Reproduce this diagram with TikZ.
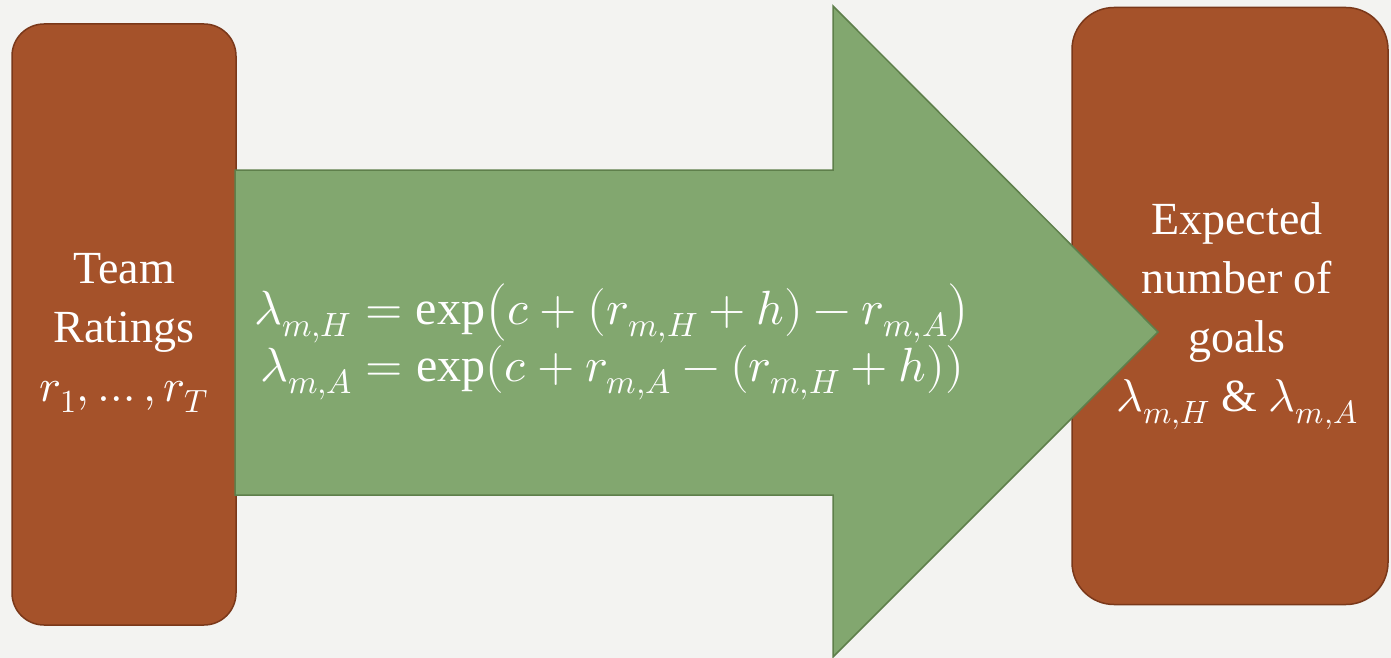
\documentclass[tikz,border=0pt]{standalone}
\usepackage{amsmath}
\usepackage{fontspec}
\usepackage{unicode-math}
\setmainfont{Liberation Serif}
\setmathfont{Latin Modern Math}
\definecolor{bg}{RGB}{243,243,241}
\definecolor{brownfill}{RGB}{165,82,42}
\definecolor{browndraw}{RGB}{122,56,26}
\definecolor{greenfill}{RGB}{130,167,111}
\definecolor{greendraw}{RGB}{94,127,75}
\tikzset{
  box/.style={draw=browndraw, fill=brownfill, line width=1.5pt, inner sep=0pt},
  boxtext/.style={text=white, align=center, font=\fontsize{46}{59}\selectfont},
  eqtext/.style={text=white, align=center, font=\fontsize{48}{57}\selectfont},
}
\begin{document}
\begin{tikzpicture}[x=1pt,y=-1pt]
\fill[bg] (0,0) rectangle (1391,658);
\useasboundingbox (0,0) rectangle (1391,658);
% boxes
\node[box, rounded corners=32pt, minimum width=224pt, minimum height=601pt] (left) at (124,324.5) {};
\node[box, rounded corners=42pt, minimum width=316pt, minimum height=597pt] (right) at (1230,306) {};
% arrow
\coordinate (a1) at (235,170);
\coordinate (a2) at (833,170);
\coordinate (a3) at (833,6);
\coordinate (tip) at (1158,332);
\coordinate (a5) at (833,657);
\coordinate (a6) at (833,495);
\coordinate (a7) at (235,495);
\draw[draw=greendraw, fill=greenfill, line width=1.5pt, line join=miter]
  (a1) -- (a2) -- (a3) -- (tip) -- (a5) -- (a6) -- (a7) -- cycle;
% texts
\node[boxtext] (lefttext) at (124,333) {Team\\Ratings\\$r_1,\ldots,r_T$};
\node[boxtext] (righttext) at (1237,316) {Expected\\number of\\goals\\$\lambda_{m,H}$ \& $\lambda_{m,A}$};
\node[eqtext] (eq) at (612,342) {$\lambda_{m,H}=\exp\!\left(c+(r_{m,H}+h)-r_{m,A}\right)$\\$\lambda_{m,A}=\exp(c+r_{m,A}-(r_{m,H}+h))$};
\end{tikzpicture}
\end{document}
